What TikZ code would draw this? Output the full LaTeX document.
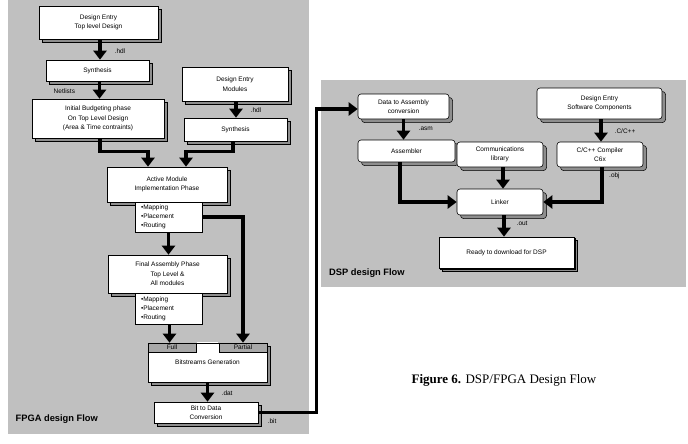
\documentclass[tikz,border=0pt]{standalone}
\usepackage{fontspec}
\setmainfont{Liberation Sans}
\newfontfamily\capfont{Liberation Serif}
\usetikzlibrary{arrows.meta,shadows,calc}
\definecolor{panelgray}{HTML}{C0C0C0}
\definecolor{shadowgray}{HTML}{8E8E8E}
\definecolor{tabgray}{HTML}{A8A8A8}
\tikzset{
  txt/.style={font=\fontsize{6.5}{9.5}\selectfont},
  box/.style={draw, fill=white, line width=0.6pt, align=center, inner sep=0pt, txt,
    copy shadow={shadow xshift=3.5pt, shadow yshift=-3.5pt, fill=shadowgray, draw=black, line width=0.5pt}},
  rbox/.style={box, rounded corners=3pt},
  subbox/.style={draw, fill=white, line width=0.6pt, align=left, inner xsep=6pt, inner ysep=0pt, txt,
    font=\fontsize{6.5}{9}\selectfont, text width=55pt},
  tabbox/.style={draw, fill=tabgray, line width=0.6pt, inner sep=0pt, txt},
  arr/.style={line width=3.3pt, -{Triangle[width=13pt,length=9pt]}},
  thick line/.style={line width=3.3pt},
  lbl/.style={txt, inner sep=0pt, anchor=west},
  title/.style={font=\bfseries\fontsize{9.3}{11}\selectfont, inner sep=0pt, anchor=west}
}
\begin{document}
\begin{tikzpicture}[x=1pt,y=-1pt]
\useasboundingbox[fill=white] (0,0) rectangle (688,444);
% panels
\fill[panelgray] (8,0) rectangle (309,434);
\fill[panelgray] (321,80) rectangle (686,287);

% FPGA boxes
\node[box, minimum width=119pt, minimum height=33pt] (b1) at (98.5,22.5) {Design Entry\\Top level Design};
\node[box, minimum width=103pt, minimum height=21pt] (b2) at (97.5,70.5) {Synthesis};
\node[box, minimum width=132pt, minimum height=39pt] (b3) at (98,118.5) {Initial Budgeting phase\\On Top Level Design\\(Area \& Time contraints)};
\node[box, minimum width=106pt, minimum height=34pt] (b4) at (235,84) {Design Entry\\Modules};
\node[box, minimum width=103pt, minimum height=23pt] (b5) at (235.5,129.5) {Synthesis};
\node[box, minimum width=120pt, minimum height=35pt] (b6) at (167,184.5) {Active Module\\Implementation Phase};
\node[subbox, minimum height=30pt] (s6) at (168.5,217) {•Mapping\\•Placement\\•Routing};
\node[box, minimum width=119pt, minimum height=38pt] (b7) at (167.5,274) {Final Assembly Phase\\Top Level \&\\All modules};
\node[subbox, minimum height=31pt] (s7) at (168.5,308.5) {•Mapping\\•Placement\\•Routing};
\node[box, minimum width=119pt, minimum height=39pt] (b8) at (207.5,362.5) {Bitstreams Generation};
\node[tabbox, minimum width=48pt, minimum height=9pt] (full) at (172,347.5) {Full};
\node[tabbox, minimum width=48pt, minimum height=9pt] (partial) at (243,347.5) {Partial};
\draw[white, line width=0.8pt] ([xshift=0.4pt]full.north east) -- ([xshift=-0.4pt]partial.north west);
\node[box, minimum width=104pt, minimum height=21pt] (b9) at (206,412.5) {Bit to Data\\Conversion};

% DSP boxes
\node[rbox, minimum width=91pt, minimum height=25pt] (d1) at (403.5,106.5) {Data to Assembly\\conversion};
\node[rbox, minimum width=97pt, minimum height=22pt] (d2) at (406.5,151) {Assembler};
\node[rbox, minimum width=86pt, minimum height=25pt] (d3) at (500,154.5) {Communications\\library};
\node[rbox, minimum width=125pt, minimum height=31pt] (d4) at (599.5,103.5) {Design Entry\\Software Components};
\node[rbox, minimum width=86pt, minimum height=25pt] (d5) at (600,154.5) {C/C++ Compiler\\C6x};
\node[rbox, minimum width=86pt, minimum height=26pt] (d6) at (500,202) {Linker};
\node[box, minimum width=135pt, minimum height=31pt,
  copy shadow={shadow xshift=1.5pt, shadow yshift=-1.5pt, fill=shadowgray, draw=black, line width=0.4pt}] (d7) at (506.5,252.5) {Ready to download for DSP};

% FPGA connectors
\draw[arr] ([xshift=1.5pt]b1.south) -- ([xshift=1.5pt]b1.south |- b2.north);
\draw[arr] ([xshift=2pt]b2.south) -- ([xshift=2pt]b2.south |- b3.north);
\draw[arr] ([xshift=1pt]b4.south) -- ([xshift=1pt]b4.south |- b5.north);
\draw[arr] ([xshift=2pt]b3.south) -- ++(0,13) -| ([xshift=-19pt]b6.north);
\draw[arr] ([xshift=-2.5pt]b5.south) -- ++(0,10) -| ([xshift=19pt]b6.north);
\draw[arr] (s6.south) -- (s6.south |- b7.north);
\draw[arr] (s6.east) -| (partial.north);
\draw[arr] ([xshift=1pt]s7.south) -- ([xshift=1pt]s7.south |- full.north);
\draw[arr] (b8.south) -- (b8.south |- b9.north);
\coordinate (turn) at (316.5,109);
\draw[arr] (b9.east) -| (turn) -- (turn -| d1.west);

% DSP connectors
\draw[arr] (d1.south) -- (d1.south |- d2.north);
\draw[arr] ([xshift=1.5pt]d4.south) -- ([xshift=1.5pt]d4.south |- d5.north);
\draw[arr] ([xshift=3pt]d3.south) -- ([xshift=3pt]d3.south |- d6.north);
\draw[arr] ([xshift=-6.5pt]d2.south) |- (d6.west);
\draw[arr] ([xshift=2pt]d5.south) |- (d6.east);
\draw[arr] ([xshift=4pt]d6.south) -- ([xshift=4pt]d6.south |- d7.north);

% labels
\node[lbl] (l1) at (114.5,51) {.hdl};
\node[lbl] (l2) at (53.5,91) {Netlists};
\node[lbl] (l3) at (250.5,110) {.hdl};
\node[lbl] (l4) at (221.5,393.5) {.dat};
\node[lbl] (l5) at (267.5,421.5) {.bit};
\node[lbl] (l6) at (418.5,129) {.asm};
\node[lbl] (l7) at (614.5,131.5) {.C/C++};
\node[lbl] (l8) at (609,176) {.obj};
\node[lbl] (l9) at (516.5,223) {.out};
\node[title] (t1) at (15.5,419) {FPGA design Flow};
\node[title] (t2) at (329,273) {DSP design Flow};
\node[font=\capfont\fontsize{13}{15}\selectfont, inner sep=0pt] (cap) at (504,380) {\textbf{Figure 6.} DSP/FPGA Design Flow};
\end{tikzpicture}
\end{document}
